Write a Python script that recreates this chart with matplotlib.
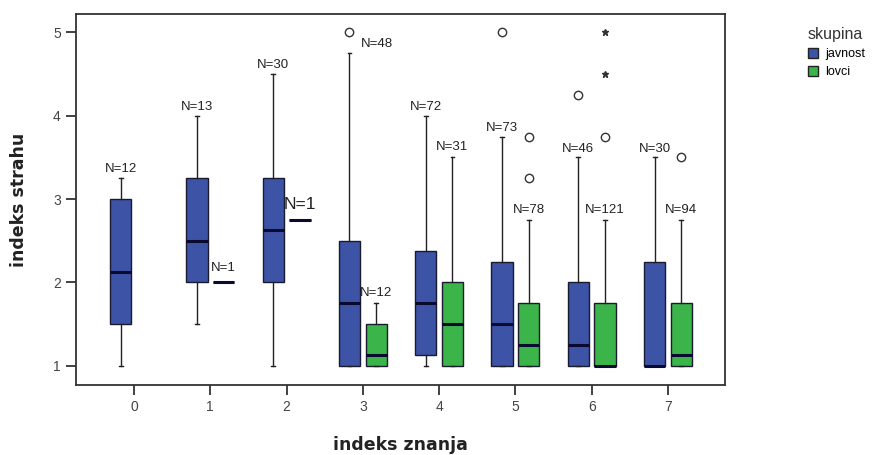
import matplotlib.pyplot as plt
from matplotlib.patches import Patch

# kategorije indeksa znanja
categories = [0, 1, 2, 3, 4, 5, 6, 7]

# javnost (modra)
jav_lo = [1, 1.5, 1, 1, 1, 1, 1, 1]
jav_q1 = [1.5, 2, 2, 1, 1.125, 1, 1, 1]
jav_med = [2.125, 2.5, 2.625, 1.75, 1.75, 1.5, 1.25, 1.0]
jav_q3 = [3, 3.25, 3.25, 2.5, 2.375, 2.25, 2.0, 2.25]
jav_hi = [3.25, 4, 4.5, 4.75, 4.0, 3.75, 3.5, 3.5]
jav_n = [12, 13, 30, 48, 72, 73, 46, 30]
jav_out = {3: [5.0], 5: [5.0], 6: [4.25]}

# lovci (zelena), ni podatkov za 0
lov_cats = [1, 2, 3, 4, 5, 6, 7]
lov_lo = [2, 2.75, 1, 1, 1, 1, 1]
lov_q1 = [2, 2.75, 1, 1, 1, 1, 1]
lov_med = [2, 2.75, 1.125, 1.5, 1.25, 1.0, 1.125]
lov_q3 = [2, 2.75, 1.5, 2.0, 1.75, 1.75, 1.75]
lov_hi = [2, 2.75, 1.75, 3.5, 2.75, 2.75, 2.75]
lov_n = [1, 1, 12, 31, 78, 121, 94]
lov_out = {5: [3.75, 3.25], 6: [3.75], 7: [3.5]}
lov_extreme = {6: [5.0, 4.5]}

blue = '#3c53a6'
green = '#3bb54a'
off = 0.175
width = 0.28


def make_stats(lo, q1, med, q3, hi, outs, cats):
    stats = []
    for i, c in enumerate(cats):
        stats.append(dict(med=med[i], q1=q1[i], q3=q3[i], whislo=lo[i],
                          whishi=hi[i], fliers=outs.get(c, [])))
    return stats


fig = plt.figure(figsize=(8.79, 4.55), dpi=100)
ax = fig.add_axes([0.0865, 0.154, 0.7385, 0.815])

groups = [
    (make_stats(jav_lo, jav_q1, jav_med, jav_q3, jav_hi, jav_out, categories),
     categories, -off, blue),
    (make_stats(lov_lo, lov_q1, lov_med, lov_q3, lov_hi, lov_out, lov_cats),
     lov_cats, off, green),
]
for stats, cats, dx, col in groups:
    ax.bxp(stats, positions=[c + dx for c in cats], widths=width,
           capwidths=0.05, patch_artist=True, manage_ticks=False,
           boxprops=dict(facecolor=col, edgecolor='#1a1a2e', linewidth=1.0),
           medianprops=dict(color='#0a0a30', linewidth=2.2),
           whiskerprops=dict(color='#222222', linewidth=1.0),
           capprops=dict(color='#222222', linewidth=1.0),
           flierprops=dict(marker='o', markersize=6, markerfacecolor='none',
                           markeredgecolor='#333333', markeredgewidth=1.0))

for c, vals in lov_extreme.items():
    ax.plot([c + off] * len(vals), vals, linestyle='none', marker='*',
            markersize=5, color='#333333')

# N oznake
lab_font = dict(fontsize=9.5, family='Liberation Sans', color='#222222',
                ha='center', va='bottom')
for i, c in enumerate(categories):
    xs = 20 if c == 3 else 0
    ax.annotate(f'N={jav_n[i]}', (c - off, jav_hi[i]), xytext=(xs, 2),
                textcoords='offset points', **lab_font)
for i, c in enumerate(lov_cats):
    fs = 12.5 if c == 2 else 9.5
    dy = 6 if lov_n[i] == 1 else 3
    f = dict(lab_font, fontsize=fs)
    ax.annotate(f'N={lov_n[i]}', (c + off, lov_hi[i]), xytext=(0, dy),
                textcoords='offset points', **f)

ax.set_xlim(-0.76, 7.75)
ax.set_ylim(0.77, 5.22)
ax.set_xticks(categories)
ax.set_yticks([1, 2, 3, 4, 5])
ax.tick_params(axis='both', colors='#333333', labelcolor='#444444',
               labelsize=10, length=7, width=1.3, pad=4)
for t in ax.get_xticklabels() + ax.get_yticklabels():
    t.set_family('Liberation Sans')
for s in ax.spines.values():
    s.set_linewidth(1.3)
    s.set_color('#333333')

ax.set_xlabel('indeks znanja', fontsize=12.5, fontweight='bold',
              color='#222222', labelpad=16)
ax.set_ylabel('indeks strahu', fontsize=12.5, fontweight='bold',
              color='#222222', labelpad=18)

handles = [Patch(facecolor=blue, edgecolor='#222222', label='javnost'),
           Patch(facecolor=green, edgecolor='#222222', label='lovci')]
leg = fig.legend(handles=handles, title='skupina', loc='upper left',
                 bbox_to_anchor=(0.912, 0.955), frameon=False,
                 prop=dict(family='Liberation Sans', size=9),
                 handlelength=0.8, handleheight=0.8, handletextpad=0.6,
                 labelspacing=0.5, borderpad=0, alignment='left')
leg.get_title().set_fontsize(11.5)
leg.get_title().set_family('Liberation Sans')
leg.get_title().set_color('#333333')

fig.savefig('out.png', dpi=100)
